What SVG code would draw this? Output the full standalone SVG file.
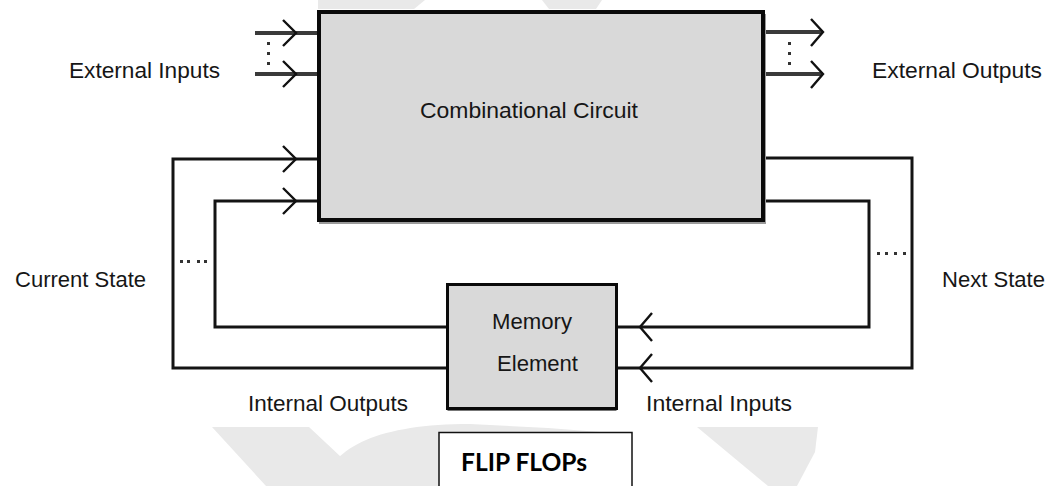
<svg xmlns="http://www.w3.org/2000/svg" width="1047" height="486" viewBox="0 0 1047 486">
<style>
.lbl{font-family:"Liberation Sans",Arial,sans-serif;font-size:22px;fill:#161616}
.wire{fill:none;stroke:#141414;stroke-width:3;stroke-linejoin:miter}
.ext{fill:none;stroke:#3a3a3a;stroke-width:4}
.chev{fill:none;stroke:#111;stroke-width:2.4;stroke-linejoin:miter}
.dot{fill:#333}
.wm{fill:#e9e9e9}
</style>
<rect width="1047" height="486" fill="#fff"/>
<g id="watermark">
<polygon class="wm" points="318,0 425,0 414,9 318,9"/>
<polygon class="wm" points="542,0 602,0 596,9 549,9"/>
<polygon class="wm" points="212,427 309,427 372,486 266,486"/>
<path class="wm" d="M322,486 C332,446 380,424 470,424 L548,428 L600,432 L600,486 Z"/>
<polygon class="wm" points="697,427 818,427 815,452 797,486 768,486"/>
</g>
<g id="connectors">
<line class="ext" x1="255" y1="33" x2="318" y2="33"/>
<line class="ext" x1="255" y1="74" x2="318" y2="74"/>
<polyline class="chev" points="283,20 296,33 283,46"/>
<polyline class="chev" points="283,61 296,74 283,87"/>
<rect class="dot" x="267" y="42" width="3" height="3"/>
<rect class="dot" x="267" y="52" width="3" height="3"/>
<rect class="dot" x="267" y="62" width="3" height="3"/>
<line class="ext" x1="764" y1="32" x2="823" y2="32"/>
<line class="ext" x1="764" y1="74" x2="823" y2="74"/>
<polyline class="chev" points="811,19 823,32 811,46"/>
<polyline class="chev" points="811,61 823,74 811,88"/>
<rect class="dot" x="788" y="42" width="3" height="3"/>
<rect class="dot" x="788" y="52" width="3" height="3"/>
<rect class="dot" x="788" y="62" width="3" height="3"/>
<polyline class="wire" points="318,159 173,159 173,368 447,368"/>
<polyline class="wire" points="318,201 215,201 215,327 447,327"/>
<polyline class="chev" points="283,146 296,159 283,172"/>
<polyline class="chev" points="283,188 296,201 283,214"/>
<polyline class="wire" points="764,158 912,158 912,368 617,368"/>
<polyline class="wire" points="764,201 869,201 869,327 617,327"/>
<polyline class="chev" points="652,313 640,327 652,341"/>
<polyline class="chev" points="652,354 640,368 652,382"/>
<rect class="dot" x="180" y="260" width="3" height="3"/>
<rect class="dot" x="187" y="260" width="3" height="3"/>
<rect class="dot" x="197" y="260" width="3" height="3"/>
<rect class="dot" x="204" y="260" width="3" height="3"/>
<rect class="dot" x="877" y="252" width="3" height="3"/>
<rect class="dot" x="885" y="252" width="3" height="3"/>
<rect class="dot" x="894" y="252" width="3" height="3"/>
<rect class="dot" x="903" y="252" width="3" height="3"/>
</g>
<g id="combinational">
<rect x="319" y="14" width="447" height="210" fill="#9a9a9a"/>
<rect x="319" y="12" width="444" height="208" fill="#d9d9d9" stroke="#0a0a0a" stroke-width="4"/>
<text class="lbl" x="420" y="118" font-size="24" textLength="218" lengthAdjust="spacingAndGlyphs">Combinational Circuit</text>
</g>
<g id="memory">
<rect x="447.5" y="286" width="169" height="125" fill="#777"/>
<rect x="447.5" y="284.5" width="169" height="124" fill="#d9d9d9" stroke="#0a0a0a" stroke-width="3"/>
<text class="lbl" x="492" y="329" font-size="23" textLength="80" lengthAdjust="spacingAndGlyphs">Memory</text>
<text class="lbl" x="497" y="371" font-size="23" textLength="81" lengthAdjust="spacingAndGlyphs">Element</text>
</g>
<g id="labels">
<text class="lbl" x="69" y="78" textLength="151" lengthAdjust="spacingAndGlyphs">External Inputs</text>
<text class="lbl" x="872" y="78" textLength="170" lengthAdjust="spacingAndGlyphs">External Outputs</text>
<text class="lbl" x="15" y="287" textLength="131" lengthAdjust="spacingAndGlyphs">Current State</text>
<text class="lbl" x="942" y="287" textLength="103" lengthAdjust="spacingAndGlyphs">Next State</text>
<text class="lbl" x="248" y="411" textLength="160" lengthAdjust="spacingAndGlyphs">Internal Outputs</text>
<text class="lbl" x="646" y="411" textLength="146" lengthAdjust="spacingAndGlyphs">Internal Inputs</text>
</g>
<g id="flipflops">
<rect x="439" y="432.5" width="193" height="60" fill="#fff" stroke="#111" stroke-width="1.5"/>
<text x="461" y="471" font-family="Lato,'Open Sans',sans-serif" font-weight="bold" font-size="24" fill="#000" textLength="126" lengthAdjust="spacingAndGlyphs">FLIP FLOPs</text>
</g>
</svg>
